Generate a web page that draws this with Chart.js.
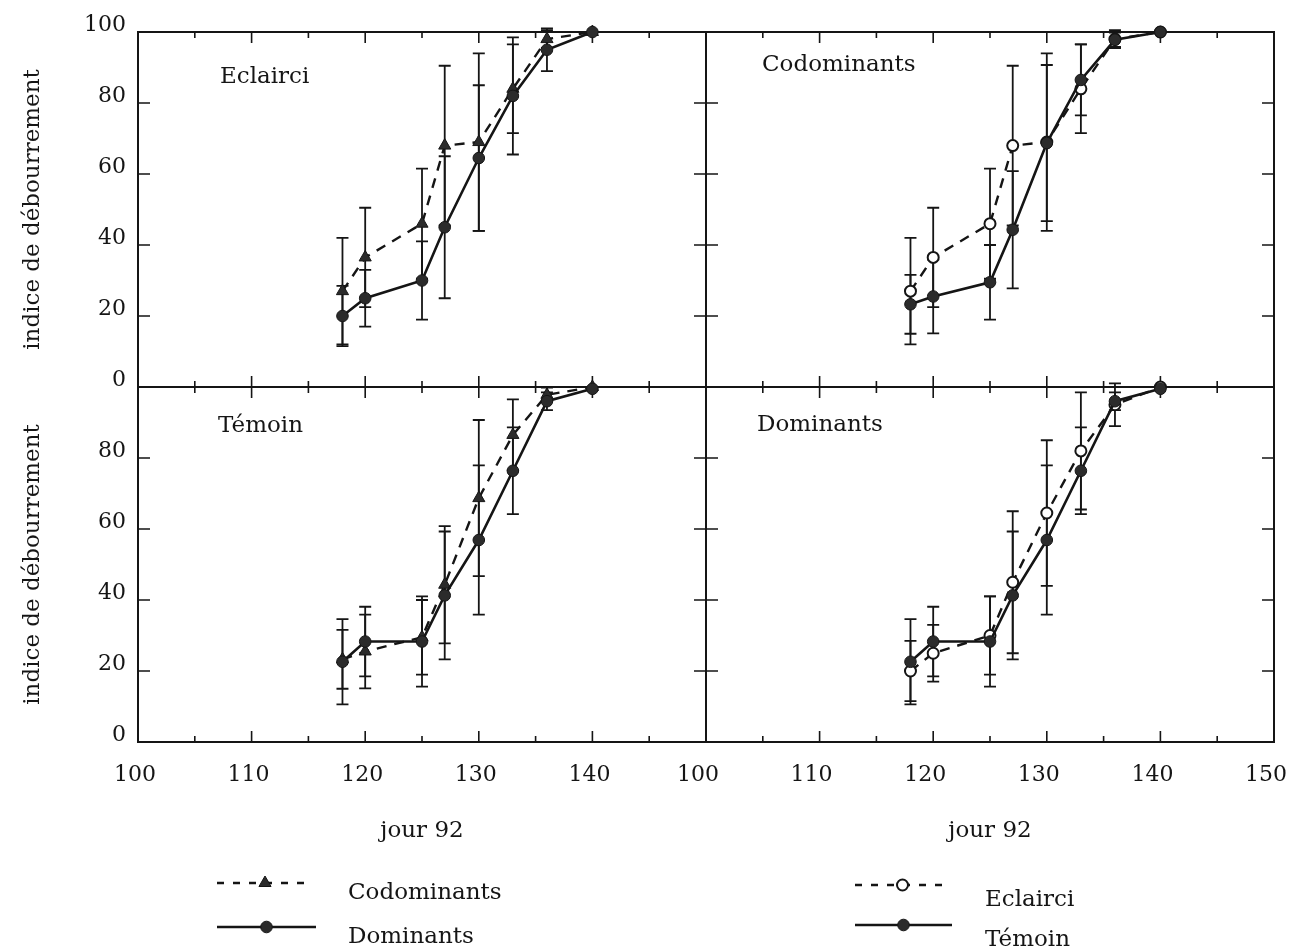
<!DOCTYPE html>
<html>
<head>
<meta charset="utf-8">
<title>Indice de débourrement</title>
<script src="https://cdn.jsdelivr.net/npm/chart.js@4.4.1/dist/chart.umd.min.js"></script>
<style>
  html, body { margin: 0; padding: 0; background: #fff; }
  #wrap { position: relative; width: 1289px; height: 952px; }
  #wrap canvas { position: absolute; left: 0; top: 0; }
</style>
</head>
<body>
<div id="wrap">
  <canvas id="pTL" width="1289" height="952"></canvas>
  <canvas id="pTR" width="1289" height="952"></canvas>
  <canvas id="pBL" width="1289" height="952"></canvas>
  <canvas id="pBR" width="1289" height="952"></canvas>
</div>
<script>
// Observation days (jour 92)
const days = [118, 120, 125, 127, 130, 133, 136, 140];

// Bud-burst index, mean and half error bar per day
const codomEclairci    = [27, 36.5, 46, 68, 69, 84, 98, 100];
const codomEclairciErr = [15, 14, 15.5, 22.5, 25, 12.5, 2.5, 0];
const domEclairci      = [20, 25, 30, 45, 64.5, 82, 95, 100];
const domEclairciErr   = [8.5, 8, 11, 20, 20.5, 16.5, 6, 0];
const codomTemoin      = [23.3, 25.5, 29.5, 44.3, 68.7, 86.5, 97.8, 100];
const codomTemoinErr   = [8.3, 10.4, 10.5, 16.5, 22, 10, 2, 0];
const domTemoin        = [22.6, 28.3, 28.3, 41.3, 56.9, 76.4, 96, 99.5];
const domTemoinErr     = [12, 9.8, 12.7, 18, 21, 12.2, 2.5, 0];

// Tick labels
const xTicksLeft  = [100, 110, 120, 130, 140];
const xTicksRight = [100, 110, 120, 130, 140, 150];
const yTicksTop    = [0, 20, 40, 60, 80, 100];
const yTicksBottom = [0, 20, 40, 60, 80];

const INK = '#151515';
const FONT = '"DejaVu Serif", "Liberation Serif", serif';

Chart.defaults.font.family = FONT;
Chart.defaults.color = INK;

const pts = (vals) => days.map((d, i) => ({ x: d, y: vals[i] }));

// dataset styles
function solidDots(label, vals, errs) {
  return {
    label, data: pts(vals), errors: errs,
    borderColor: INK, borderWidth: 2.6,
    pointStyle: 'circle', pointRadius: 5.8,
    pointBackgroundColor: '#2b2b2b', pointBorderColor: INK, pointBorderWidth: 1,
    clip: false
  };
}
function dashedTriangles(label, vals, errs) {
  return {
    label, data: pts(vals), errors: errs,
    borderColor: INK, borderWidth: 2.4, borderDash: [10, 8],
    pointStyle: 'triangle', pointRadius: 7,
    pointBackgroundColor: '#2b2b2b', pointBorderColor: INK, pointBorderWidth: 1,
    clip: false
  };
}
function dashedRings(label, vals, errs) {
  return {
    label, data: pts(vals), errors: errs,
    borderColor: INK, borderWidth: 2.4, borderDash: [10, 8],
    pointStyle: 'circle', pointRadius: 5.5,
    pointBackgroundColor: '#fff', pointBorderColor: INK, pointBorderWidth: 2,
    clip: false
  };
}

/* ---------- plugins ---------- */

// box around each panel + inward tick marks
const frame = {
  id: 'frame',
  beforeDatasetsDraw(chart) {
    const { ctx, chartArea: a, scales: { x, y } } = chart;
    ctx.save();
    ctx.strokeStyle = INK;
    ctx.lineWidth = 2;
    ctx.strokeRect(a.left, a.top, a.width, a.height);
    ctx.lineWidth = 1.6;
    ctx.beginPath();
    for (let v = 105; v < 150; v += 5) {
      const px = x.getPixelForValue(v);
      const len = v % 10 === 0 ? 11 : 6;
      ctx.moveTo(px, a.top); ctx.lineTo(px, a.top + len);
      ctx.moveTo(px, a.bottom); ctx.lineTo(px, a.bottom - len);
    }
    for (let v = 20; v < 100; v += 20) {
      const py = y.getPixelForValue(v);
      ctx.moveTo(a.left, py); ctx.lineTo(a.left + 12, py);
      ctx.moveTo(a.right, py); ctx.lineTo(a.right - 12, py);
    }
    ctx.stroke();
    ctx.restore();
  }
};

// vertical error bars with caps
const errorBars = {
  id: 'errorBars',
  beforeDatasetsDraw(chart) {
    const { ctx, scales: { x, y } } = chart;
    ctx.save();
    ctx.strokeStyle = INK;
    ctx.lineWidth = 1.8;
    chart.data.datasets.forEach(ds => {
      ds.data.forEach((p, i) => {
        const e = ds.errors[i];
        if (!e) return;
        const px = x.getPixelForValue(p.x);
        const y1 = y.getPixelForValue(p.y + e);
        const y2 = y.getPixelForValue(p.y - e);
        ctx.beginPath();
        ctx.moveTo(px, y1); ctx.lineTo(px, y2);
        ctx.moveTo(px - 6, y1); ctx.lineTo(px + 6, y1);
        ctx.moveTo(px - 6, y2); ctx.lineTo(px + 6, y2);
        ctx.stroke();
      });
    });
    ctx.restore();
  }
};

// panel name and the legend under the bottom panels
const panelText = {
  id: 'panelText',
  afterDraw(chart, args, opts) {
    const { ctx, chartArea: a } = chart;
    ctx.save();
    ctx.fillStyle = INK;
    ctx.font = '23px ' + FONT;
    ctx.textBaseline = 'middle';
    if (opts.title) ctx.fillText(opts.title, a.left + opts.dx, a.top + opts.dy);

    (opts.legend || []).forEach(item => {
      const ds = chart.data.datasets[item.ds];
      ctx.strokeStyle = ds.borderColor;
      ctx.lineWidth = ds.borderWidth;
      ctx.setLineDash(ds.borderDash ? [7, 9] : []);
      ctx.beginPath();
      ctx.moveTo(item.x1, item.y);
      ctx.lineTo(item.x2, item.y);
      ctx.stroke();
      ctx.setLineDash([]);
      ctx.fillStyle = ds.pointBackgroundColor;
      ctx.strokeStyle = ds.pointBorderColor;
      ctx.lineWidth = ds.pointBorderWidth;
      Chart.helpers.drawPoint(ctx, {
        pointStyle: ds.pointStyle, radius: ds.pointRadius, rotation: 0,
        borderWidth: ds.pointBorderWidth
      }, (item.x1 + item.x2) / 2, item.y);
      ctx.fillStyle = INK;
      ctx.fillText(ds.label, item.tx, item.ty);
    });
    ctx.restore();
  }
};

/* ---------- panels ---------- */

function makePanel(id, cfg) {
  const xAxis = {
    type: 'linear', min: 100, max: 150,
    display: cfg.showX,
    grid: { display: false, drawTicks: false },
    border: { display: false },
    afterBuildTicks: s => { s.ticks = (cfg.xTicks || []).map(v => ({ value: v })); },
    afterFit: s => {
      s.height = cfg.showX ? 110 : 0;
      s.paddingLeft = 0;
      s.paddingRight = 0;
    },
    ticks: { font: { size: 22 }, padding: 20, labelOffset: cfg.xLabelOffset || 0, maxRotation: 0, autoSkip: false },
    title: { display: true, text: 'jour 92', font: { size: 23 }, padding: { top: 0, bottom: 7 } }
  };
  const yAxis = {
    type: 'linear', min: 0, max: 100,
    display: cfg.showY,
    grid: { display: false, drawTicks: false },
    border: { display: false },
    afterBuildTicks: s => { s.ticks = (cfg.yTicks || []).map(v => ({ value: v })); },
    afterFit: s => {
      s.width = cfg.showY ? 138 : 0;
      s.paddingTop = 0;
      s.paddingBottom = 0;
    },
    ticks: { font: { size: 22 }, padding: 12, labelOffset: -7, autoSkip: false },
    title: { display: true, text: 'indice de débourrement', font: { size: 23 }, padding: { top: 19, bottom: 0 } }
  };

  return new Chart(document.getElementById(id), {
    type: 'line',
    data: { datasets: cfg.datasets },
    options: {
      responsive: false,
      animation: false,
      events: [],
      layout: { padding: cfg.padding },
      scales: { x: xAxis, y: yAxis },
      plugins: {
        legend: { display: false },
        tooltip: { enabled: false },
        panelText: cfg.text
      }
    },
    plugins: [frame, errorBars, panelText]
  });
}

// Eclairci: Dominants vs Codominants
makePanel('pTL', {
  showX: false, showY: true, yTicks: yTicksTop,
  padding: { left: 0, top: 32, right: 583, bottom: 565 },
  datasets: [
    solidDots('Dominants', domEclairci, domEclairciErr),
    dashedTriangles('Codominants', codomEclairci, codomEclairciErr)
  ],
  text: { title: 'Eclairci', dx: 82, dy: 45 }
});

// Codominants: Témoin vs Eclairci
makePanel('pTR', {
  showX: false, showY: false,
  padding: { left: 706, top: 32, right: 15, bottom: 565 },
  datasets: [
    solidDots('Témoin', codomTemoin, codomTemoinErr),
    dashedRings('Eclairci', codomEclairci, codomEclairciErr)
  ],
  text: { title: 'Codominants', dx: 56, dy: 33 }
});

// Témoin: Dominants vs Codominants
makePanel('pBL', {
  showX: true, showY: true, xTicks: xTicksLeft, yTicks: yTicksBottom, xLabelOffset: -3,
  padding: { left: 0, top: 387, right: 583, bottom: 100 },
  datasets: [
    solidDots('Dominants', domTemoin, domTemoinErr),
    dashedTriangles('Codominants', codomTemoin, codomTemoinErr)
  ],
  text: {
    title: 'Témoin', dx: 80, dy: 39,
    legend: [
      { ds: 1, x1: 217, x2: 313, y: 883, tx: 348, ty: 893 },
      { ds: 0, x1: 217, x2: 316, y: 927, tx: 348, ty: 937 }
    ]
  }
});

// Dominants: Témoin vs Eclairci
makePanel('pBR', {
  showX: true, showY: false, xTicks: xTicksRight, xLabelOffset: -8,
  padding: { left: 706, top: 387, right: 15, bottom: 100 },
  datasets: [
    solidDots('Témoin', domTemoin, domTemoinErr),
    dashedRings('Eclairci', domEclairci, domEclairciErr)
  ],
  text: {
    title: 'Dominants', dx: 51, dy: 38,
    legend: [
      { ds: 1, x1: 855, x2: 950, y: 885, tx: 985, ty: 900 },
      { ds: 0, x1: 855, x2: 952, y: 925, tx: 985, ty: 940 }
    ]
  }
});
</script>
</body>
</html>
